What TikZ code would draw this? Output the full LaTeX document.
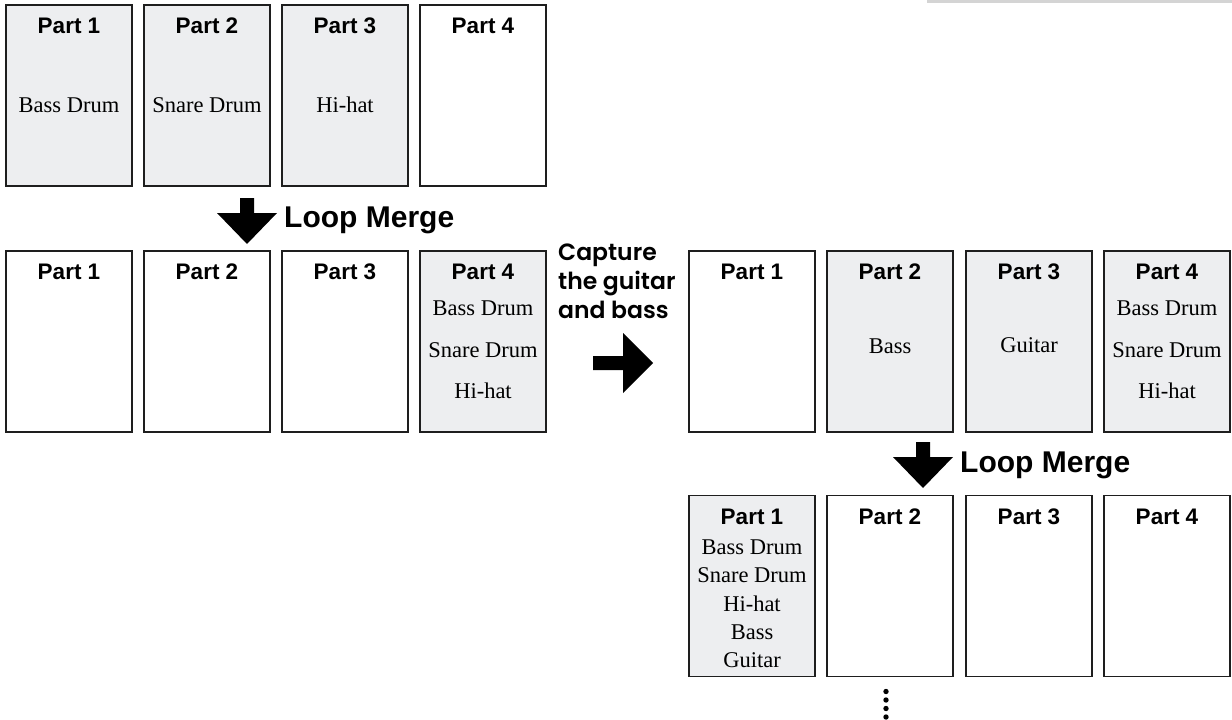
\documentclass[tikz,border=0pt]{standalone}
\usepackage{fontspec}
\setmainfont{Liberation Serif}
\newfontfamily\lsans{Liberation Sans}
\IfFontExistsTF{Poppins SemiBold}
  {\newfontfamily\capfont{Poppins SemiBold}\newcommand\capweight{}}
  {\newfontfamily\capfont{Poppins}\newcommand\capweight{\bfseries}}
\definecolor{boxgray}{RGB}{237,238,240}
\definecolor{bordercol}{RGB}{30,30,30}
\definecolor{bargray}{RGB}{212,212,212}
\tikzset{
  partbox/.style={draw=bordercol, line width=1.6pt, minimum width=126pt, minimum height=181pt, inner sep=0pt},
  filled/.style={partbox, fill=boxgray},
  empty/.style={partbox, fill=white},
  lab/.style={font=\lsans\bfseries\fontsize{22.5}{26}\selectfont, anchor=base, inner sep=0pt},
  ser/.style={font=\fontsize{22.5}{26}\selectfont, anchor=base, inner sep=0pt},
  merge/.style={font=\lsans\bfseries\fontsize{30}{34}\selectfont, anchor=base west, inner sep=0pt},
  captext/.style={font=\capfont\capweight\fontsize{23.5}{29}\selectfont, anchor=base west, inner sep=0pt},
  downarrow/.pic={\fill[black] (-7,-46) -- (7,-46) -- (7,-31) -- (30,-31) -- (0,0) -- (-30,-31) -- (-7,-31) -- cycle;},
  rightarrow/.pic={\fill[black] (-60,-7) -- (-30,-7) -- (-30,-30) -- (0,0) -- (-30,30) -- (-30,7) -- (-60,7) -- cycle;}
}
\begin{document}
\begin{tikzpicture}[x=1pt,y=-1pt]
\path[use as bounding box] (0,0) rectangle (1232,720);
\fill[bargray] (927,0) rectangle (1232,3);

% Row 1
\node[filled] (a1) at (69,95.5) {};
\node[filled] (a2) at (207,95.5) {};
\node[filled] (a3) at (345,95.5) {};
\node[empty]  (a4) at (483,95.5) {};
\node[lab] (a1t) at (69,33) {Part 1};
\node[lab] (a2t) at (207,33) {Part 2};
\node[lab] (a3t) at (345,33) {Part 3};
\node[lab] (a4t) at (483,33) {Part 4};
\node[ser] (a1s) at (69,112) {Bass Drum};
\node[ser] (a2s) at (207,112) {Snare Drum};
\node[ser] (a3s) at (345,112) {Hi-hat};

% Loop Merge 1
\coordinate (m1) at (247,244);
\pic at (m1) {downarrow};
\node[merge] (m1t) at (284,227) {Loop Merge};

% Row 2 left
\node[empty]  (b1) at (69,341.5) {};
\node[empty]  (b2) at (207,341.5) {};
\node[empty]  (b3) at (345,341.5) {};
\node[filled] (b4) at (483,341.5) {};
\node[lab] (b1t) at (69,279) {Part 1};
\node[lab] (b2t) at (207,279) {Part 2};
\node[lab] (b3t) at (345,279) {Part 3};
\node[lab] (b4t) at (483,279) {Part 4};
\node[ser] (b4s1) at (483,315) {Bass Drum};
\node[ser] (b4s2) at (483,357) {Snare Drum};
\node[ser] (b4s3) at (483,398) {Hi-hat};

% Capture
\node[captext] (cap1) at (558,260) {Capture};
\node[captext] (cap2) at (558,289) {the guitar};
\node[captext] (cap3) at (558,318) {and bass};
\coordinate (ra) at (653,363);
\pic at (ra) {rightarrow};

% Row 2 right
\node[empty]  (c1) at (752,341.5) {};
\node[filled] (c2) at (890,341.5) {};
\node[filled] (c3) at (1029,341.5) {};
\node[filled] (c4) at (1167,341.5) {};
\node[lab] (c1t) at (752,279) {Part 1};
\node[lab] (c2t) at (890,279) {Part 2};
\node[lab] (c3t) at (1029,279) {Part 3};
\node[lab] (c4t) at (1167,279) {Part 4};
\node[ser] (c2s) at (890,353) {Bass};
\node[ser] (c3s) at (1029,352) {Guitar};
\node[ser] (c4s1) at (1167,315) {Bass Drum};
\node[ser] (c4s2) at (1167,357) {Snare Drum};
\node[ser] (c4s3) at (1167,398) {Hi-hat};

% Loop Merge 2
\coordinate (m2) at (923,488);
\pic at (m2) {downarrow};
\node[merge] (m2t) at (960,472) {Loop Merge};

% Row 3
\node[filled] (d1) at (752,586) {};
\node[empty]  (d2) at (890,586) {};
\node[empty]  (d3) at (1029,586) {};
\node[empty]  (d4) at (1167,586) {};
\node[lab] (d1t) at (752,524) {Part 1};
\node[lab] (d2t) at (890,524) {Part 2};
\node[lab] (d3t) at (1029,524) {Part 3};
\node[lab] (d4t) at (1167,524) {Part 4};
\node[ser] (d1s1) at (752,554) {Bass Drum};
\node[ser] (d1s2) at (752,582.5) {Snare Drum};
\node[ser] (d1s3) at (752,611) {Hi-hat};
\node[ser] (d1s4) at (752,639) {Bass};
\node[ser] (d1s5) at (752,667) {Guitar};

% dots
\foreach \yy in {691.5,700,708.5,717}
  \fill[black] (886,\yy) circle (2.7pt);
\end{tikzpicture}
\end{document}
